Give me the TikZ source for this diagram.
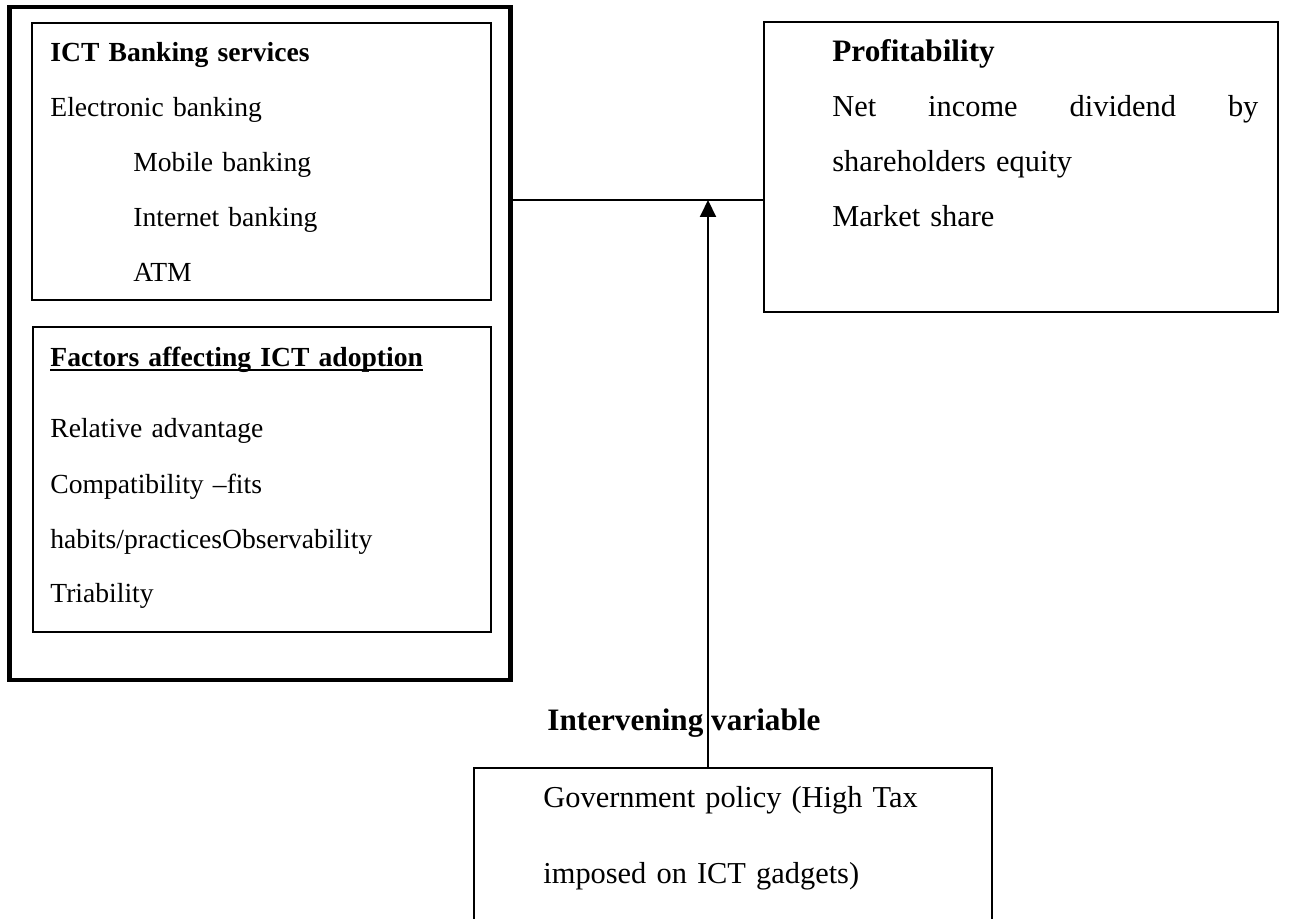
\documentclass[tikz,border=0pt]{standalone}
\usepackage{fontspec}
\setmainfont{Liberation Serif}
\usetikzlibrary{arrows.meta,positioning}
\newcommand{\thickul}[1]{\setbox0\hbox{#1}\rlap{\rule[-2pt]{\wd0}{1pt}}\box0}
\tikzset{
  panel/.style={draw, line width=1pt, inner sep=0pt},
  outerpanel/.style={draw, line width=2.4pt, inner sep=0pt},
  body/.style={anchor=base west, inner sep=0pt, align=left, font=\fontsize{13.8}{27.5}\selectfont},
  bigbody/.style={body, font=\fontsize{15.2}{27.5}\selectfont},
  link/.style={line width=1pt},
}

\begin{document}
\begin{tikzpicture}[x=0.5pt, y=-0.5pt]
  \useasboundingbox (0,0) rectangle (1295,919);
  \clip (0,0) rectangle (1295,919);
  % frames
  \node[outerpanel, minimum width=250.5pt, minimum height=336.5pt] (outer) at (260,343.5) {};
  \node[panel, minimum width=229.5pt, minimum height=138.5pt] (ict) at (261.5,161.5) {};
  \node[panel, minimum width=229pt, minimum height=152.5pt] (factors) at (262,479.5) {};
  \node[panel, minimum width=257pt, minimum height=145pt] (profit) at (1021,167) {};
  \node[panel, minimum width=259pt, minimum height=96pt] (gov) at (733,864) {};
  % texts
  \node[body, text width=215pt] (ictText) at (50,62) {\textbf{ICT Banking services}\\
    Electronic banking\\
    \hspace*{41.5pt}Mobile banking\\
    \hspace*{41.5pt}Internet banking\\
    \hspace*{41.5pt}ATM};
  \node[body, text width=215pt] (factorsText) at (50,367) {\thickul{\textbf{Factors affecting ICT adoption}}\\[8pt]
    Relative advantage\\
    Compatibility --fits\\
    habits/practicesObservability\\
    Triability};
  \node[bigbody, text width=213pt] (profitText) at (832,62) {{\fontsize{15.6}{27.5}\selectfont\textbf{Profitability}}\\
    Net\hfill income\hfill dividend\hfill by\\
    shareholders equity\\
    Market share};
  \node[bigbody, text width=240pt] (govText) at (543,807) {Government policy (High Tax\\[10.5pt]
    imposed on ICT gadgets)};
  \node[body, font=\fontsize{15.6}{18}\selectfont\bfseries] (ivLabel) at (547,730) {Intervening variable};
  % connectors
  \coordinate (j) at (708,200);
  \draw[link] (outer.east |- j) -- (profit.west |- j);
  \draw[link, -{Triangle[width=8pt,length=8.5pt]}] (j |- gov.north) -- (j);
\end{tikzpicture}
\end{document}
